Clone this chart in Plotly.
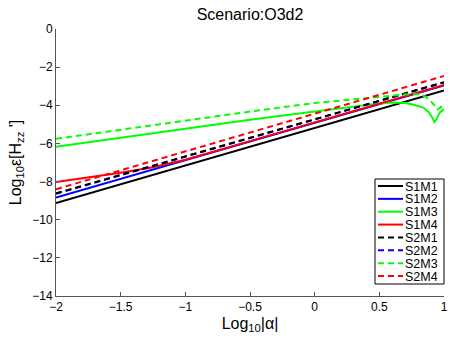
import plotly.graph_objects as go

# ---------------- data ----------------
x_lin = [-2, -1.5, -1, -0.5, 0, 0.5, 1]
s1m1 = [-9.12, -8.14, -7.15, -6.17, -5.19, -4.20, -3.22]
s1m2 = [-8.84, -7.86, -6.88, -5.90, -4.92, -3.94, -2.96]
s2m1 = [-8.62, -7.65, -6.68, -5.71, -4.73, -3.76, -2.79]
s2m2 = [-8.64, -7.67, -6.69, -5.72, -4.74, -3.77, -2.80]
s2m4 = [-8.40, -7.41, -6.41, -5.42, -4.43, -3.43, -2.46]

x_s1m4 = [-2, -1.75, -1.5, -1.25, -1.15, -1, -0.5, 0, 0.5, 1]
s1m4 = [-8.02, -7.78, -7.54, -7.25, -7.10, -6.86, -5.88, -4.90, -3.92, -2.94]

x_s1m3 = [-2, -1.5, -1, -0.5, 0, 0.5, 0.6, 0.7, 0.76, 0.84, 0.88, 0.91, 0.925, 0.94, 0.965, 1.0]
s1m3 = [-6.18, -5.70, -5.22, -4.76, -4.33, -3.90, -3.86, -3.88, -3.96, -4.12, -4.35, -4.65, -4.87, -4.75, -4.40, -4.20]

x_s2m3 = [-2, -1.5, -1, -0.5, 0, 0.5, 0.7, 0.8, 0.86, 0.91, 0.95, 0.975, 1.0]
s2m3 = [-5.76, -5.28, -4.80, -4.33, -3.88, -3.55, -3.43, -3.42, -3.55, -3.87, -4.22, -4.10, -3.90]

names = ["S1M1", "S1M2", "S1M3", "S1M4", "S2M1", "S2M2", "S2M3", "S2M4"]
colors = ["#000000", "#0000ff", "#00ff00", "#ff0000",
          "#000000", "#0000ff", "#00ff00", "#ff0000"]
dashes = ["solid", "solid", "solid", "solid",
          "6px,4px", "6px,4px", "6px,4px", "6px,4px"]
xs = [x_lin, x_lin, x_s1m3, x_s1m4, x_lin, x_lin, x_s2m3, x_lin]
ys = [s1m1, s1m2, s1m3, s1m4, s2m1, s2m2, s2m3, s2m4]
draw_order = [0, 1, 2, 3, 5, 4, 6, 7]

x_ticks = [-2, -1.5, -1, -0.5, 0, 0.5, 1]
y_ticks = [0, -2, -4, -6, -8, -10, -12, -14]

FONT = "Liberation Sans, Arial, Helvetica, sans-serif"

fig = go.Figure()
for i in draw_order:
    fig.add_trace(go.Scatter(
        x=xs[i], y=ys[i], mode="lines", name=names[i],
        line=dict(color=colors[i], width=2, dash=dashes[i]),
        showlegend=False,
    ))

# ---------------- manual legend (MATLAB style) ----------------
W, H = 450, 338
ml, mr, mt, mb = 56, 6, 29, 42
pw, ph = W - ml - mr, H - mt - mb


def px2x(px):
    return (px - ml) / pw


def py2y(py):
    return (H - mb - py) / ph


shapes = [dict(type="rect", xref="paper", yref="paper",
               x0=px2x(375), x1=px2x(444), y0=py2y(284), y1=py2y(179),
               line=dict(color="#000000", width=1), fillcolor="white", layer="above")]
annotations = []
for k, nm in enumerate(names):
    yy = py2y(186 + 12.86 * k)
    shapes.append(dict(type="line", xref="paper", yref="paper",
                       x0=px2x(378), x1=px2x(403), y0=yy, y1=yy, layer="above",
                       line=dict(color=colors[k], width=2, dash=dashes[k])))
    annotations.append(dict(xref="paper", yref="paper", x=px2x(404), y=yy,
                            text=nm, showarrow=False, xanchor="left", yanchor="middle",
                            height=11, borderpad=0,
                            font=dict(family=FONT, size=12.5, color="#000000")))

fig.update_layout(
    width=W, height=H,
    margin=dict(l=ml, r=mr, t=mt, b=mb, autoexpand=False),
    paper_bgcolor="white", plot_bgcolor="white",
    font=dict(family=FONT, color="#000000"),
    title=dict(text="Scenario:O3d2", x=0.5, xref="paper", xanchor="center",
               y=1 - 14 / H, yref="container", yanchor="middle",
               font=dict(family=FONT, size=16, color="#000000")),
    shapes=shapes,
    annotations=annotations,
    showlegend=False,
)
fig.update_xaxes(
    range=[-2, 1], tickmode="array", tickvals=x_ticks,
    ticktext=[("\u2212" + str(abs(v)).rstrip("0").rstrip(".") if v < 0 else str(v)) for v in x_ticks],
    ticks="inside", ticklen=4, tickcolor="#555555",
    showline=True, linecolor="#555555", linewidth=1, mirror=False,
    showgrid=False, zeroline=False,
    tickfont=dict(family=FONT, size=12, color="#000000"),
    title=dict(text="Log<sub>10</sub>|\u03b1|", standoff=4,
               font=dict(family=FONT, size=16, color="#000000")),
)
fig.update_yaxes(
    range=[-14, 0], tickmode="array", tickvals=y_ticks,
    ticktext=[("\u2212" + str(abs(v)) if v < 0 else str(v)) for v in y_ticks],
    ticks="inside", ticklen=4, tickcolor="#555555",
    showline=True, linecolor="#555555", linewidth=1, mirror=False,
    showgrid=False, zeroline=False,
    tickfont=dict(family=FONT, size=12, color="#000000"),
    title=dict(text="Log<sub>10</sub>\u03b5[H<sub>zz</sub> ']", standoff=6,
               font=dict(family=FONT, size=16, color="#000000")),
)

fig.write_html("out.html", config={"displayModeBar": False},
               post_script="document.body.style.margin='0px';")
